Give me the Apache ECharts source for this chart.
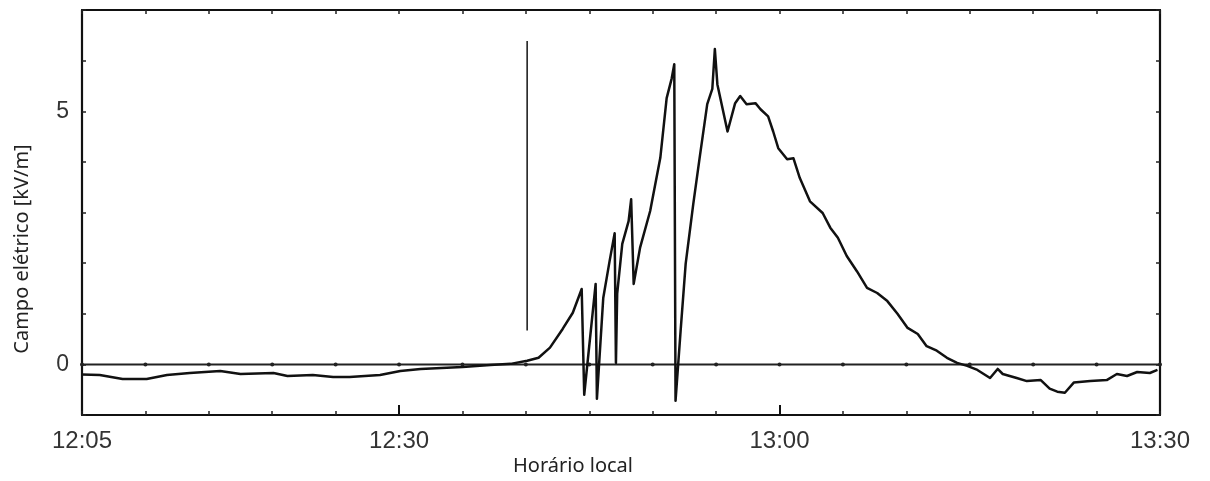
<!DOCTYPE html>
<html>
<head>
<meta charset="utf-8">
<script src="https://cdn.jsdelivr.net/npm/echarts@6/dist/echarts.min.js"></script>
<style>
  html, body { margin: 0; padding: 0; background: #fff; }
  #chart { width: 1210px; height: 481px; }
</style>
</head>
<body>
<div id="chart"></div>
<script>
// horario em minutos depois das 12:00
const fieldTime = [
  5.0, 6.4, 8.2, 10.1, 11.7, 13.5, 15.9, 17.5, 20.1, 21.2, 23.2, 24.8, 26.1, 28.5, 30.1,
  31.7, 35.0, 37.2, 38.8, 40.1, 41.0, 41.9, 42.9, 43.7, 44.4, 44.6, 45.5, 45.6,
  46.1, 46.6, 47.0, 47.1, 47.2, 47.6, 48.1, 48.3, 48.5,
  49.0, 49.8, 50.6, 51.1, 51.5, 51.7, 51.8,
  52.2, 52.6, 53.2, 53.7, 54.3, 54.7, 54.9, 55.1, 55.9,
  56.5, 56.9, 57.4, 58.1, 58.5, 59.1, 59.5, 59.9, 60.6, 61.1, 61.6, 62.4, 63.4, 64.0,
  64.6, 65.3, 66.1, 66.9, 67.7, 68.5, 69.3, 70.1, 70.9, 71.6, 72.4, 73.2, 74.0, 74.8, 75.6,
  76.6, 77.2, 77.6, 78.7, 79.5, 80.6, 81.3, 81.9, 82.5, 83.2, 84.5, 85.8, 86.6, 87.4, 88.2, 89.2, 89.8
];
// campo eletrico [kV/m]
const fieldValue = [
  -0.20, -0.21, -0.29, -0.29, -0.21, -0.17, -0.13, -0.19, -0.17, -0.23, -0.21, -0.25, -0.25, -0.21, -0.13,
  -0.09, -0.05, -0.01, 0.01, 0.07, 0.13, 0.33, 0.70, 1.02, 1.49, -0.60, 1.59, -0.68,
  1.31, 2.04, 2.59, 0.03, 1.40, 2.38, 2.83, 3.26, 1.59,
  2.30, 3.03, 4.08, 5.26, 5.65, 5.93, -0.72,
  0.66, 1.99, 3.17, 4.08, 5.14, 5.44, 6.23, 5.53, 4.60,
  5.16, 5.30, 5.14, 5.16, 5.04, 4.90, 4.60, 4.27, 4.05, 4.07, 3.68, 3.22, 2.99, 2.70,
  2.50, 2.14, 1.84, 1.51, 1.41, 1.25, 1.00, 0.72, 0.60, 0.36, 0.27, 0.13, 0.03, -0.03, -0.11,
  -0.27, -0.09, -0.19, -0.27, -0.33, -0.31, -0.48, -0.54, -0.56, -0.36, -0.33, -0.31, -0.19, -0.23, -0.15, -0.17, -0.11
];
// traco vertical isolado por volta das 12:40
const spikeTime = [40.1, 40.1];
const spikeValue = [0.67, 6.39];
// pontos marcados na linha do zero (a cada 5 min)
const zeroMarks = [5, 10, 15, 20, 25, 30, 35, 40, 45, 50, 55, 60, 65, 70, 75, 80, 85, 90];
// rotulos do eixo horizontal
const timeLabels = { 5: '12:05', 30: '12:30', 60: '13:00', 90: '13:30' };
const longTicks = [30, 60];
const valueLabels = [0, 5];

const chart = echarts.init(document.getElementById('chart'), null, { renderer: 'canvas' });

const frameLine = { show: true, onZero: false, lineStyle: { color: '#111', width: 2.2 } };
const innerTick = { show: true, inside: true, length: 4, lineStyle: { color: '#222', width: 1.5 } };

const option = {
  animation: false,
  backgroundColor: '#fff',
  grid: { left: 82, right: 50, top: 10, bottom: 66, containLabel: false },
  xAxis: [{
    type: 'value', position: 'bottom', min: 5, max: 90, interval: 5,
    axisLine: frameLine, axisTick: innerTick, splitLine: { show: false },
    axisLabel: {
      margin: 14, color: '#333', fontSize: 24, fontFamily: '"Liberation Sans", Arial, sans-serif',
      formatter: v => timeLabels[v] || ''
    }
  }, {
    type: 'value', position: 'top', min: 5, max: 90, interval: 5,
    axisLine: frameLine, axisTick: innerTick, splitLine: { show: false },
    axisLabel: { show: false }
  }],
  yAxis: [{
    type: 'value', position: 'left', min: -1, max: 7, interval: 1,
    axisLine: frameLine, axisTick: innerTick, splitLine: { show: false },
    axisLabel: {
      margin: 13, color: '#333', fontSize: 23, fontFamily: '"Liberation Sans", Arial, sans-serif',
      formatter: v => valueLabels.indexOf(v) >= 0 ? String(v) : ''
    }
  }, {
    type: 'value', position: 'right', min: -1, max: 7, interval: 1,
    axisLine: frameLine, axisTick: innerTick, splitLine: { show: false },
    axisLabel: { show: false }
  }],
  graphic: [{
    type: 'text', x: 22, y: 249, rotation: Math.PI / 2,
    style: {
      text: 'Campo elétrico [kV/m]', align: 'center', verticalAlign: 'middle',
      fontSize: 20, fontFamily: '"Noto Sans", sans-serif', fill: '#222'
    }
  }, {
    type: 'text', x: 573, y: 466,
    style: {
      text: 'Horário local', align: 'center', verticalAlign: 'middle',
      fontSize: 20, fontFamily: '"Noto Sans", sans-serif', fill: '#222'
    }
  }],
  series: [{
    // linha de referencia do zero
    type: 'line',
    data: zeroMarks.map(m => [m, 0]),
    symbol: 'circle', symbolSize: 4, showSymbol: true,
    itemStyle: { color: '#222' },
    lineStyle: { color: '#222', width: 2 },
    z: 2,
    markLine: {
      silent: true, symbol: 'none', label: { show: false },
      lineStyle: { color: '#111', width: 2, type: 'solid' },
      data: longTicks.map(m => [{ coord: [m, -1] }, { coord: [m, -0.8] }])
    }
  }, {
    type: 'line',
    data: spikeTime.map((t, i) => [t, spikeValue[i]]),
    showSymbol: false, symbol: 'none',
    lineStyle: { color: '#222', width: 1.6 },
    z: 3
  }, {
    type: 'line',
    data: fieldTime.map((t, i) => [t, fieldValue[i]]),
    showSymbol: false, symbol: 'none',
    lineStyle: { color: '#111', width: 2.5, join: 'round' },
    z: 4
  }]
};

chart.setOption(option);
</script>
</body>
</html>
